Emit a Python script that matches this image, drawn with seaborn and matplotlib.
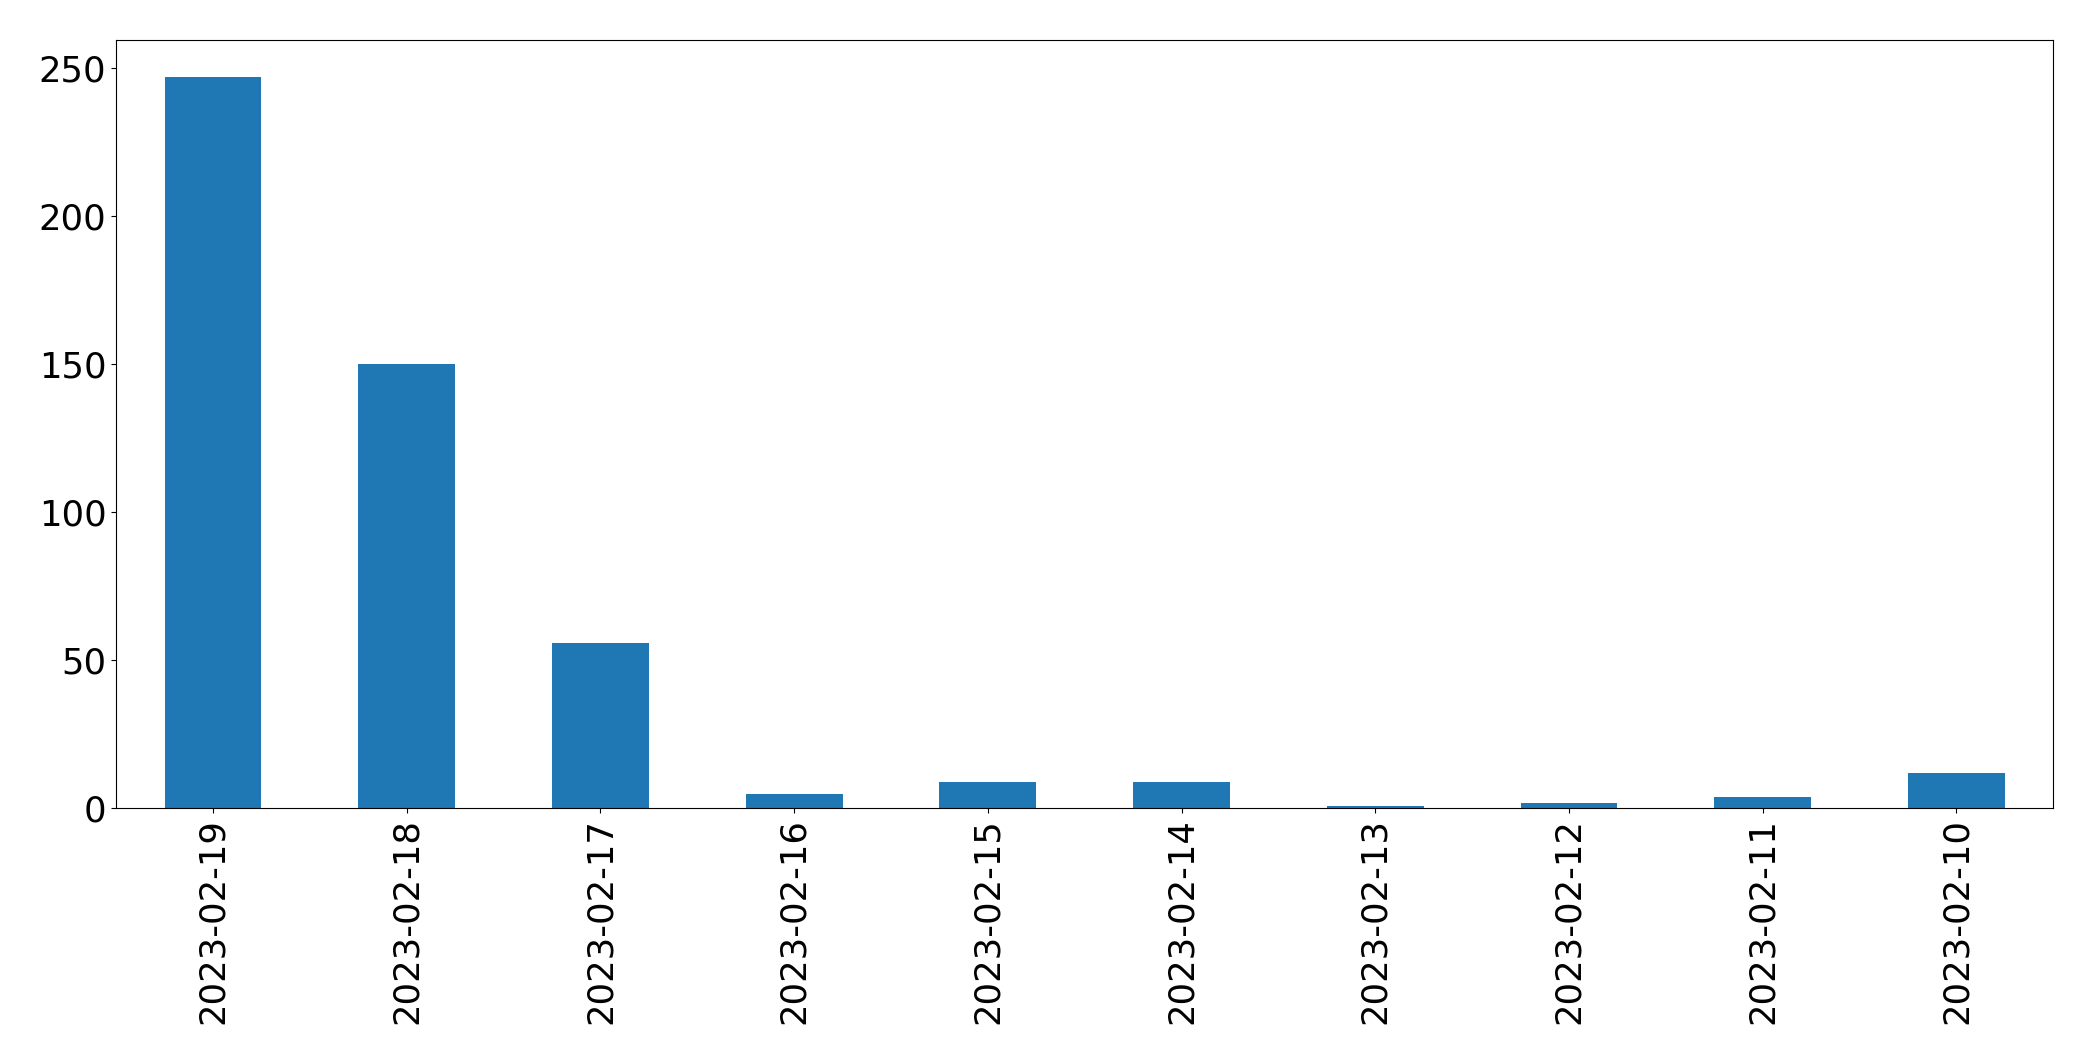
import pandas as pd
import matplotlib
matplotlib.use("Agg")
import matplotlib.pyplot as plt
import seaborn as sns

# Counts per day
dates = ["2023-02-19", "2023-02-18", "2023-02-17", "2023-02-16", "2023-02-15",
         "2023-02-14", "2023-02-13", "2023-02-12", "2023-02-11", "2023-02-10"]
counts = [247, 150, 56, 5, 9, 9, 1, 2, 4, 12]

df = pd.DataFrame({"date": dates, "count": counts})

plt.rcParams["font.family"] = ["DejaVu Sans"]

fig = plt.figure(figsize=(20.93, 10.61), dpi=100)
ax = fig.add_axes([0.0555, 0.238, 0.9255, 0.724])
sns.barplot(data=df, x="date", y="count", order=dates, color="#1f77b4",
            saturation=1, width=0.5, ax=ax)

ax.set_xlabel("")
ax.set_ylabel("")
ax.set_xlim(-0.5, len(dates) - 0.5)
ax.set_ylim(0, 259.5)
ax.tick_params(axis="both", labelsize=25.5, colors="black")
ax.tick_params(axis="x", labelrotation=90)
for sp in ax.spines.values():
    sp.set_color("black")

fig.savefig("out.png", dpi=100)
